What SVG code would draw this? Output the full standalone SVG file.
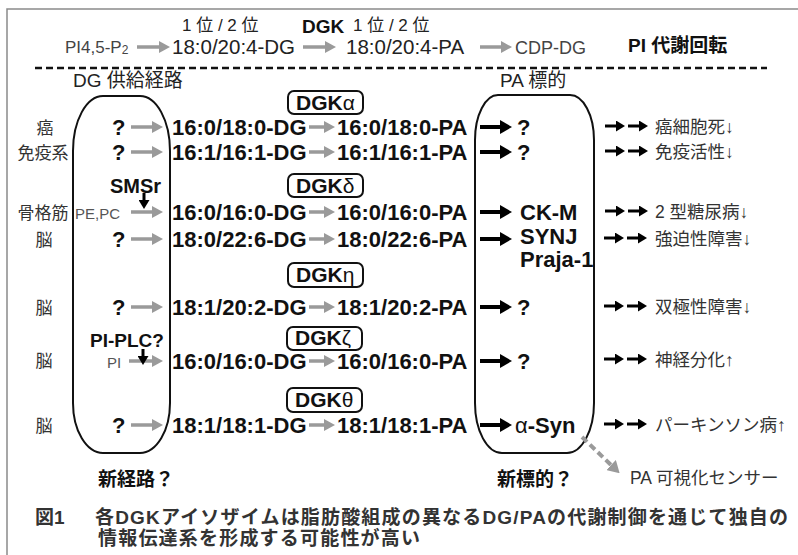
<svg xmlns="http://www.w3.org/2000/svg" width="798" height="555" viewBox="0 0 798 555">
<defs>
<style>
text{font-family:"Liberation Sans","Noto Sans CJK JP",sans-serif;fill:#111}
.row{font-size:22px;font-weight:bold}
.hd{font-size:20.5px;fill:#222}
.hs{font-size:17px;fill:#222}
.lab{font-size:17px;fill:#333;text-anchor:middle}
.out{font-size:17.5px;fill:#333}
.bd{font-weight:bold}
.sm{font-size:15px;fill:#555}
.dgk{font-size:21px;font-weight:bold}
.gk{font-weight:normal}
.box{fill:none;stroke:#111;stroke-width:2}
.dbox{fill:#fff;stroke:#111;stroke-width:2}
.ga{stroke:#9a9a9a;stroke-width:3.5;fill:none}
.ba{stroke:#000;stroke-width:4;fill:none}
.bs{stroke:#000;stroke-width:3;fill:none}
.cap{font-size:19px;font-weight:bold;fill:#333}
</style>
<marker id="mg" viewBox="0 0 11 12" markerWidth="11" markerHeight="12" refX="0" refY="6" orient="auto" markerUnits="userSpaceOnUse"><path d="M0,0 L11,6 L0,12 z" fill="#9a9a9a"/></marker>
<marker id="mb" viewBox="0 0 12 14" markerWidth="12" markerHeight="14" refX="0" refY="7" orient="auto" markerUnits="userSpaceOnUse"><path d="M0,0 L12,7 L0,14 z" fill="#000"/></marker>
<marker id="ms" viewBox="0 0 9 11" markerWidth="9" markerHeight="11" refX="0" refY="5.5" orient="auto" markerUnits="userSpaceOnUse"><path d="M0,0 L9,5.5 L0,11 z" fill="#000"/></marker>
<marker id="md" viewBox="0 0 9 11" markerWidth="9" markerHeight="11" refX="0" refY="5.5" orient="auto" markerUnits="userSpaceOnUse"><path d="M0,0 L9,5.5 L0,11 z" fill="#000"/></marker>
<marker id="mgd" viewBox="0 0 12 14" markerWidth="12" markerHeight="14" refX="0" refY="7" orient="auto" markerUnits="userSpaceOnUse"><path d="M0,0 L12,7 L0,14 z" fill="#9a9a9a"/></marker>
</defs>
<rect x="0" y="0" width="798" height="555" fill="#fff"/>
<path d="M7,555 V9 H798" fill="none" stroke="#8a8a8a" stroke-width="1.5"/>

<!-- header -->
<g id="header">
<text class="hs" x="182" y="31">1 位 / 2 位</text>
<text class="bd" x="302" y="33" font-size="19">DGK</text>
<text class="hs" x="353" y="31">1 位 / 2 位</text>
<text x="65" y="53" font-size="17" style="fill:#444">PI4,5-P<tspan font-size="12" dy="1">2</tspan></text>
<text class="hd" x="172" y="54">18:0/20:4-DG</text>
<text class="hd" x="346" y="54">18:0/20:4-PA</text>
<text x="515" y="54" font-size="18" style="fill:#444">CDP-DG</text>
<text class="bd" x="628" y="52" font-size="19">PI 代謝回転</text>
<line x1="35" y1="68" x2="767" y2="68" stroke="#111" stroke-width="2.5" stroke-dasharray="7 4"/>
</g>

<g id="dg-supply">
<text x="73" y="87" font-size="19" style="fill:#222">DG 供給経路</text>
<path class="box" d="M103,96 H140 A30,55 0 0 1 170,151 V403 A30,50 0 0 1 140,453 H103 A30,50 0 0 1 73,403 V151 A30,55 0 0 1 103,96 Z"/>
</g>
<g id="pa-target">
<text x="500" y="87" font-size="19" style="fill:#222">PA 標的</text>
<path class="box" d="M498,95 H570 A24,45 0 0 1 594,140 V403 A27,50 0 0 1 567,453 H502 A27,50 0 0 1 475,403 V140 A23,45 0 0 1 498,95 Z"/>
</g>

<!-- tissue labels -->
<g id="tissues">
<text class="lab" x="45" y="134">癌</text>
<text class="lab" x="43" y="159">免疫系</text>
<text class="lab" x="43" y="219">骨格筋</text>
<text class="lab" x="44" y="246">脳</text>
<text class="lab" x="44" y="314">脳</text>
<text class="lab" x="44" y="367">脳</text>
<text class="lab" x="44" y="432">脳</text>
</g>

<!-- DGK isozymes -->
<g id="dgk-alpha"><rect class="dbox" x="288" y="91" width="75" height="23" rx="6"/><text class="dgk" x="296" y="110">DGK<tspan class="gk">α</tspan></text></g>
<g id="dgk-delta"><rect class="dbox" x="288" y="174" width="75" height="23" rx="6"/><text class="dgk" x="296" y="193">DGK<tspan class="gk">δ</tspan></text></g>
<g id="dgk-eta"><rect class="dbox" x="288" y="263" width="75" height="24" rx="6"/><text class="dgk" x="296" y="282">DGK<tspan class="gk">η</tspan></text></g>
<g id="dgk-zeta"><rect class="dbox" x="287" y="327" width="75" height="23" rx="6"/><text class="dgk" x="295" y="345">DGK<tspan class="gk">ζ</tspan></text></g>
<g id="dgk-theta"><rect class="dbox" x="287" y="388" width="75" height="24" rx="6"/><text class="dgk" x="295" y="407">DGK<tspan class="gk">θ</tspan></text></g>

<!-- sources -->
<g id="src">
<text class="row" x="112" y="135">?</text>
<text class="row" x="112" y="160">?</text>
<text class="bd" x="110" y="193" font-size="20">SMSr</text>
<text class="sm" x="75" y="219">PE,PC</text>
<text class="row" x="112" y="247">?</text>
<text class="row" x="112" y="315">?</text>
<text class="bd" x="90" y="347" font-size="19">PI-PLC?</text>
<text class="sm" x="107" y="368">PI</text>
<text class="row" x="112" y="433">?</text>
</g>

<!-- DG species -->
<g id="dg">
<text class="row" x="172" y="135">16:0/18:0-DG</text>
<text class="row" x="172" y="160">16:1/16:1-DG</text>
<text class="row" x="172" y="220">16:0/16:0-DG</text>
<text class="row" x="172" y="247">18:0/22:6-DG</text>
<text class="row" x="172" y="315">18:1/20:2-DG</text>
<text class="row" x="172" y="369">16:0/16:0-DG</text>
<text class="row" x="172" y="433">18:1/18:1-DG</text>
</g>

<!-- PA species -->
<g id="pa">
<text class="row" x="337" y="135">16:0/18:0-PA</text>
<text class="row" x="337" y="160">16:1/16:1-PA</text>
<text class="row" x="337" y="220">16:0/16:0-PA</text>
<text class="row" x="337" y="247">18:0/22:6-PA</text>
<text class="row" x="337" y="315">18:1/20:2-PA</text>
<text class="row" x="337" y="369">16:0/16:0-PA</text>
<text class="row" x="337" y="433">18:1/18:1-PA</text>
</g>

<!-- targets -->
<g id="targets">
<text class="row" x="517" y="135">?</text>
<text class="row" x="517" y="160">?</text>
<text class="row" x="520" y="220" font-size="21">CK-M</text>
<text class="row" x="520" y="244" font-size="19">SYNJ</text>
<text class="row" x="520" y="267" font-size="19">Praja-1</text>
<text class="row" x="517" y="315">?</text>
<text class="row" x="517" y="369">?</text>
<text class="row" x="515" y="433"><tspan class="gk">α</tspan>-Syn</text>
</g>

<!-- outcomes -->
<g id="outcomes">
<text class="out" x="655" y="133">癌細胞死↓</text>
<text class="out" x="655" y="158">免疫活性↓</text>
<text class="out" x="655" y="218">2 型糖尿病↓</text>
<text class="out" x="655" y="245">強迫性障害↓</text>
<text class="out" x="655" y="313">双極性障害↓</text>
<text class="out" x="655" y="366">神経分化↑</text>
<text class="out" x="655" y="431">パーキンソン病↑</text>
<text class="out" x="630" y="484">PA 可視化センサー</text>
</g>

<g id="notes">
<text class="bd" x="98" y="486" font-size="19">新経路？</text>
<text class="bd" x="497" y="486" font-size="19">新標的？</text>
</g>

<!-- connectors -->
<g id="connectors">
<line class="ga" stroke-width="3" x1="137" y1="47" x2="159" y2="47" marker-end="url(#mg)"/>
<line class="ga" stroke-width="3" x1="303" y1="47" x2="325" y2="47" marker-end="url(#mg)"/>
<line class="ga" stroke-width="3" x1="480" y1="47" x2="501" y2="47" marker-end="url(#mg)"/>

<line class="ga" x1="131" y1="127" x2="152" y2="127" marker-end="url(#mg)"/>
<line class="ga" x1="131" y1="152" x2="152" y2="152" marker-end="url(#mg)"/>
<line class="ga" x1="131" y1="212" x2="152" y2="212" marker-end="url(#mg)"/>
<line class="ga" x1="131" y1="239" x2="152" y2="239" marker-end="url(#mg)"/>
<line class="ga" x1="131" y1="307" x2="152" y2="307" marker-end="url(#mg)"/>
<line class="ga" x1="129" y1="361" x2="152" y2="361" marker-end="url(#mg)"/>
<line class="ga" x1="131" y1="425" x2="152" y2="425" marker-end="url(#mg)"/>

<line class="bs" stroke-width="3.5" x1="144" y1="193" x2="144" y2="200" marker-end="url(#md)"/>
<line class="bs" stroke-width="3.5" x1="143" y1="349" x2="143" y2="356" marker-end="url(#md)"/>

<line class="ga" x1="309" y1="127" x2="324" y2="127" marker-end="url(#mg)"/>
<line class="ga" x1="309" y1="152" x2="324" y2="152" marker-end="url(#mg)"/>
<line class="ga" x1="309" y1="212" x2="324" y2="212" marker-end="url(#mg)"/>
<line class="ga" x1="309" y1="239" x2="324" y2="239" marker-end="url(#mg)"/>
<line class="ga" x1="309" y1="307" x2="324" y2="307" marker-end="url(#mg)"/>
<line class="ga" x1="309" y1="361" x2="324" y2="361" marker-end="url(#mg)"/>
<line class="ga" x1="309" y1="425" x2="324" y2="425" marker-end="url(#mg)"/>

<line class="ba" x1="480" y1="127" x2="500" y2="127" marker-end="url(#mb)"/>
<line class="ba" x1="480" y1="152" x2="500" y2="152" marker-end="url(#mb)"/>
<line class="ba" x1="480" y1="212" x2="500" y2="212" marker-end="url(#mb)"/>
<line class="ba" x1="480" y1="239" x2="500" y2="239" marker-end="url(#mb)"/>
<line class="ba" x1="480" y1="307" x2="500" y2="307" marker-end="url(#mb)"/>
<line class="ba" x1="480" y1="361" x2="500" y2="361" marker-end="url(#mb)"/>
<line class="ba" x1="480" y1="425" x2="500" y2="425" marker-end="url(#mb)"/>

<g class="bs">
<line x1="605" y1="126" x2="616" y2="126" marker-end="url(#ms)"/><line x1="628" y1="126" x2="639" y2="126" marker-end="url(#ms)"/>
<line x1="605" y1="151" x2="616" y2="151" marker-end="url(#ms)"/><line x1="628" y1="151" x2="639" y2="151" marker-end="url(#ms)"/>
<line x1="605" y1="211" x2="616" y2="211" marker-end="url(#ms)"/><line x1="628" y1="211" x2="639" y2="211" marker-end="url(#ms)"/>
<line x1="604" y1="238" x2="615" y2="238" marker-end="url(#ms)"/><line x1="627" y1="238" x2="638" y2="238" marker-end="url(#ms)"/>
<line x1="604" y1="306" x2="615" y2="306" marker-end="url(#ms)"/><line x1="627" y1="306" x2="638" y2="306" marker-end="url(#ms)"/>
<line x1="604" y1="359" x2="615" y2="359" marker-end="url(#ms)"/><line x1="627" y1="359" x2="638" y2="359" marker-end="url(#ms)"/>
<line x1="604" y1="424" x2="615" y2="424" marker-end="url(#ms)"/><line x1="627" y1="424" x2="638" y2="424" marker-end="url(#ms)"/>
</g>

<line x1="582" y1="437" x2="611" y2="465" stroke="#9a9a9a" stroke-width="4" stroke-dasharray="7 4" marker-end="url(#mgd)"/>
</g>

<g id="caption">
<text class="cap" x="35" y="524">図1</text>
<text class="cap" x="95" y="524" textLength="693" lengthAdjust="spacing">各DGKアイソザイムは脂肪酸組成の異なるDG/PAの代謝制御を通じて独自の</text>
<text class="cap" x="98" y="545" textLength="322" lengthAdjust="spacing">情報伝達系を形成する可能性が高い</text>
</g>
</svg>
